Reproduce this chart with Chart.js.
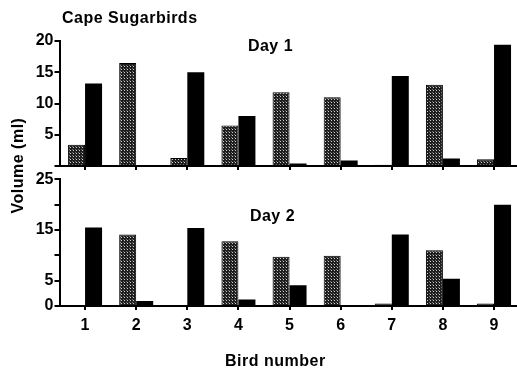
<!DOCTYPE html>
<html><head><meta charset="utf-8">
<script src="https://cdn.jsdelivr.net/npm/chart.js@4.4.1/dist/chart.umd.min.js"></script>
<style>
html,body{margin:0;padding:0;background:#fff;overflow:hidden;width:517px;height:368px;}
#wrap{position:relative;width:517px;height:368px;overflow:hidden;}
#wrap .layer{position:absolute;left:0;top:0;width:522px;height:368px;}
canvas{display:block;}
</style></head><body>
<div id="wrap">
  <div class="layer"><canvas id="topChart" width="522" height="368"></canvas></div>
  <div class="layer"><canvas id="botChart" width="522" height="368"></canvas></div>
</div>
<script>
// ---- data ----
const birds = ['1','2','3','4','5','6','7','8','9'];
const day1Gray  = [3.4, 16.5, 1.3, 6.5, 11.8, 11.0, 0.2, 13.0, 1.1];
const day1Black = [13.2, 0, 15.0, 8.0, 0.4, 0.9, 14.4, 1.2, 19.4];
const day2Gray  = [0, 14.1, 0, 12.8, 9.7, 9.9, 0.5, 11.0, 0.5];
const day2Black = [15.5, 1.0, 15.4, 1.3, 4.1, 0.2, 14.1, 5.4, 20.0];
const day1TickLabels = [5, 10, 15, 20];
const day2TickLabels = [0, 5, 15, 25];
const chartTitle = 'Cape Sugarbirds';
const yTitle = 'Volume (ml)';
const xTitle = 'Bird number';
const panel1Label = 'Day 1';
const panel2Label = 'Day 2';

// ---- stipple pattern ----
function makePattern(){
  const c = document.createElement('canvas');
  c.width = 3; c.height = 3;
  const g = c.getContext('2d');
  g.fillStyle = '#1e1e1e'; g.fillRect(0,0,3,3);
  g.fillStyle = '#d0d0d0'; g.fillRect(1,0,1,1);
  g.fillStyle = '#707070'; g.fillRect(0,2,1,1);
  return g.createPattern(c, 'repeat');
}
const FONT = '"Liberation Sans", Arial, Helvetica, sans-serif';
const tickFont = {family: FONT, size: 16, weight: 'bold'};

function textPlugin(items){
  return {
    id: 'texts',
    afterDraw(chart){
      const ctx = chart.ctx;
      ctx.save();
      ctx.fillStyle = '#000';
      ctx.font = 'bold 16px ' + FONT;
      try { ctx.letterSpacing = '0.5px'; } catch(e) {}
      for (const it of items){
        ctx.save();
        ctx.textBaseline = 'alphabetic';
        ctx.textAlign = it.align;
        ctx.translate(it.x, it.y);
        if (it.rot) ctx.rotate(it.rot);
        ctx.fillText(it.text, 0, 0);
        ctx.restore();
      }
      ctx.restore();
    }
  };
}

function makeChart(id, gray, black, yMax, labeled, isBottom, pad, texts){
  return new Chart(document.getElementById(id), {
    type: 'bar',
    data: {
      labels: birds,
      datasets: [
        {data: gray, backgroundColor: makePattern(), borderColor: '#000', borderWidth: 1},
        {data: black, backgroundColor: '#000', borderColor: '#000', borderWidth: 0}
      ]
    },
    options: {
      responsive: false,
      animation: false,
      devicePixelRatio: 1,
      categoryPercentage: 0.665,
      barPercentage: 1.0,
      layout: {padding: pad},
      plugins: {legend: {display: false}, tooltip: {enabled: false}, title: {display: false}},
      scales: {
        x: {
          type: 'category',
          offset: true,
          grid: {display: true, drawOnChartArea: false, drawTicks: true, tickLength: 4, offset: false, color: '#000', lineWidth: 2},
          border: {display: true, color: '#000', width: 2},
          ticks: {display: isBottom, font: tickFont, color: '#000', padding: 6, maxRotation: 0, autoSkip: false},
          afterFit(s){ s.height = isBottom ? 30 : 4; }
        },
        y: {
          min: 0, max: yMax,
          ticks: {stepSize: 5, font: tickFont, color: '#000', padding: 1,
                  callback: v => labeled.includes(v) ? String(v) : ''},
          grid: {display: true, drawOnChartArea: false, drawTicks: true, tickLength: 5, color: '#000', lineWidth: 2},
          border: {display: true, color: '#000', width: 2},
          afterFit(s){ s.width = 59.5; }
        }
      }
    },
    plugins: [textPlugin(texts)]
  });
}

makeChart('topChart', day1Gray, day1Black, 20, day1TickLabels, false,
  {top: 41, bottom: 198, left: 0, right: 2.4},
  [
    {text: chartTitle, x: 62, y: 22.5, align: 'left'},
    {text: panel1Label, x: 270.5, y: 50.5, align: 'center'},
    {text: yTitle, x: 22.5, y: 165.5, align: 'center', rot: -Math.PI/2}
  ]);

makeChart('botChart', day2Gray, day2Black, 25, day2TickLabels, true,
  {top: 179.3, bottom: 32, left: 0, right: 2.4},
  [
    {text: panel2Label, x: 272.5, y: 220.7, align: 'center'},
    {text: xTitle, x: 225, y: 365.5, align: 'left'}
  ]);
</script>
</body></html>
